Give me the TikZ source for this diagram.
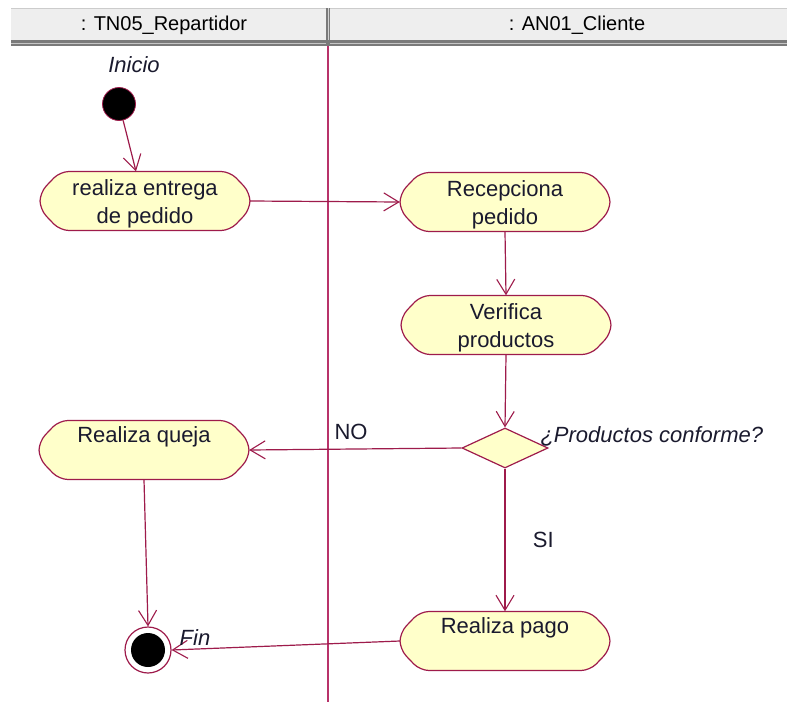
\documentclass[tikz,border=0pt]{standalone}
\usepackage{fontspec}
\setmainfont{Liberation Sans}
\usetikzlibrary{arrows.meta,shapes.geometric}
\definecolor{umlred}{HTML}{9E1B4B}
\definecolor{lanered}{HTML}{B8336A}
\definecolor{actfill}{HTML}{FFFFCA}
\definecolor{hdrfill}{HTML}{EEEEEE}
\definecolor{hdrdark}{HTML}{7A7A7A}
\definecolor{inktext}{HTML}{1A1A2E}

% activity state: octagonal outline with softened corners, a named frame node
% for the connectors and a named text node set slightly low, as Rose does
\newcommand\activity[4]{%
  \draw[actshape] (#2-85,#3-29.5) -- (#2+85,#3-29.5) -- (#2+105,#3-8.5)
    -- (#2+105,#3+8.5) -- (#2+85,#3+29.5) -- (#2-85,#3+29.5)
    -- (#2-105,#3+8.5) -- (#2-105,#3-8.5) -- cycle;
  \node[actframe] (#1) at (#2,#3) {};
  \node[acttext] (#1txt) at (#2,#3+2.5) {#4};}

\begin{document}
\begin{tikzpicture}[x=1pt,y=-1pt,
  every node/.style={font=\fontsize{22}{28}\selectfont, text=inktext},
  actshape/.style={draw=umlred, line width=1.2pt, fill=actfill, rounded corners=9pt},
  actframe/.style={rectangle, inner sep=0pt, minimum width=210pt, minimum height=59pt},
  acttext/.style={align=center, inner sep=0pt},
  flow/.style={draw=umlred, line width=1.2pt,
    -{Straight Barb[length=15pt,width=18pt,line width=1.1pt]}},
  lbl/.style={font=\fontsize{22}{26}\selectfont\itshape},
  hdr/.style={font=\fontsize{20}{24}\selectfont, text=black}]

% canvas
\useasboundingbox (0,0) rectangle (787,702);
\fill[white] (0,0) rectangle (787,702);

% swimlane header
\fill[hdrfill] (11,8) rectangle (787,40);
\draw[gray!40, line width=1pt] (11,8.5) -- (787,8.5);
\fill[hdrdark] (11,40) rectangle (787,46);
\draw[gray!45, line width=1pt] (11,43) -- (787,43);
\fill[hdrdark] (325.5,8) rectangle (329.5,46);
\draw[gray!35, line width=1pt] (328.5,8) -- (328.5,40);
\node[hdr] (laneA) at (164,25) {: TN05\_Repartidor};
\node[hdr] (laneB) at (577,25) {: AN01\_Cliente};

% lane separator
\draw[lanered, line width=1.6pt] (328,46) -- (328,702);

% start and end states
\node[lbl] (inicioLbl) at (134,65) {Inicio};
\node[circle, fill=black, draw=umlred, line width=0.8pt, minimum size=33pt, inner sep=0pt] (start) at (119,104) {};
\node[circle, draw=umlred, fill=white, line width=1.2pt, minimum size=46pt, inner sep=0pt] (fin) at (148,650) {};
\node[circle, fill=black, minimum size=34pt, inner sep=0pt] (finDot) at (fin) {};

% activities
\activity{entrega}{145}{201}{realiza entrega\\de pedido}
\activity{recep}{505}{202}{Recepciona\\pedido}
\activity{verif}{506}{325}{Verifica\\productos}
\activity{queja}{144}{450}{Realiza queja\\\strut}
\activity{pago}{505}{641}{Realiza pago\\\strut}

% decision
\node[diamond, draw=umlred, fill=actfill, line width=1.2pt, inner sep=0pt,
  minimum width=86pt, minimum height=40pt] (dec) at (505,448) {};
\node[lbl, anchor=west] (decLbl) at (537,436) {¿Productos conforme?};

% transitions
\draw[flow] (start) -- ([xshift=-9pt]entrega.north);
\draw[flow] (entrega.east) -- (recep.west);
\draw[flow] (recep.south) -- (verif.north);
\draw[flow] (verif.south) -- (dec.north);
\draw[flow] (dec.west) -- node[pos=0.52, above=5pt] (noLbl) {NO} (queja.east);
\draw[flow] (dec.south) -- node[pos=0.5, right=24pt] (siLbl) {SI} (pago.north);
\draw[flow] (queja.south) -- (fin.north);
\draw[flow] (pago.west) -- (fin.east);
\node[lbl] (finLbl) at (195,638) {Fin};
\end{tikzpicture}
\end{document}
